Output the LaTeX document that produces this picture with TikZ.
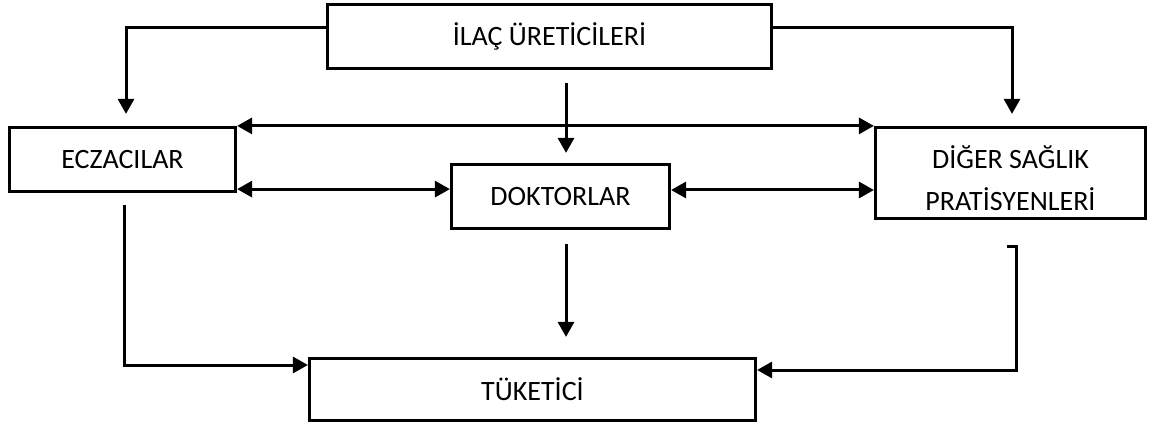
\documentclass[tikz,border=0pt]{standalone}
\usepackage{fontspec}
\setmainfont{Carlito}
\usetikzlibrary{arrows.meta}
\tikzset{
  txt/.style={font=\fontsize{28}{42}\selectfont, align=center},
  box/.style={draw, line width=3.2pt, inner sep=0pt, txt},
  arr/.style={line width=3pt, -{Triangle[length=15pt,width=16pt]}},
  arrboth/.style={line width=3pt, {Triangle[length=15pt,width=16pt]}-{Triangle[length=15pt,width=16pt]}}
}
\begin{document}
\begin{tikzpicture}[x=1pt,y=-1pt]
\useasboundingbox (0,0) rectangle (1154,430);
\node[box, minimum width=444pt, minimum height=64pt] (top) at (549.5,36.5) {İLAÇ ÜRETİCİLERİ};
\node[box, minimum width=226pt, minimum height=64pt] (ecz) at (122.5,159.5) {ECZACILAR};
\node[box, minimum width=218pt, minimum height=64pt] (dok) at (560.5,196.5) {DOKTORLAR};
\node[box, minimum width=270pt, minimum height=91pt] (dsp) at (1010.5,173) {};
\node[txt] (dspt) at (1010.5,178) {DİĞER SAĞLIK\\PRATİSYENLERİ};
\node[box, minimum width=446pt, minimum height=62pt] (tuk) at (532.5,389.5) {TÜKETİCİ};
% top to sides
\draw[arr, shorten >=12pt] ([yshift=8.5pt]top.west) -| ([xshift=3.5pt]ecz.north);
\draw[arr, shorten >=12pt] ([yshift=8.5pt]top.east) -| ([xshift=1.5pt]dsp.north);
\draw[arr, shorten <=13pt, shorten >=10pt] ([xshift=16.5pt]top.south) -- ([xshift=5.5pt]dok.north);
% horizontals
\draw[arrboth] (ecz.north east) -- (dsp.north west);
\draw[arrboth] ([yshift=4pt]ecz.south east) -- ([yshift=4pt]ecz.south east -| dok.west);
\draw[arrboth] ([yshift=6.5pt]dok.east) -- ([yshift=6.5pt]dok.east -| dsp.west);
% to consumer
\draw[arr, shorten <=14pt, shorten >=20pt] ([xshift=5.5pt]dok.south) -- ([xshift=5.5pt]dok.south |- tuk.north);
\draw[arr] ([xshift=1.5pt,yshift=-12pt]ecz.south) |- ([yshift=24.5pt]tuk.west);
\coordinate (r0) at ([xshift=-3.5pt,yshift=-26pt]dsp.south);
\draw[arr] (r0) -- ++(9,0) |- ([yshift=19.5pt]tuk.east);
\end{tikzpicture}
\end{document}
